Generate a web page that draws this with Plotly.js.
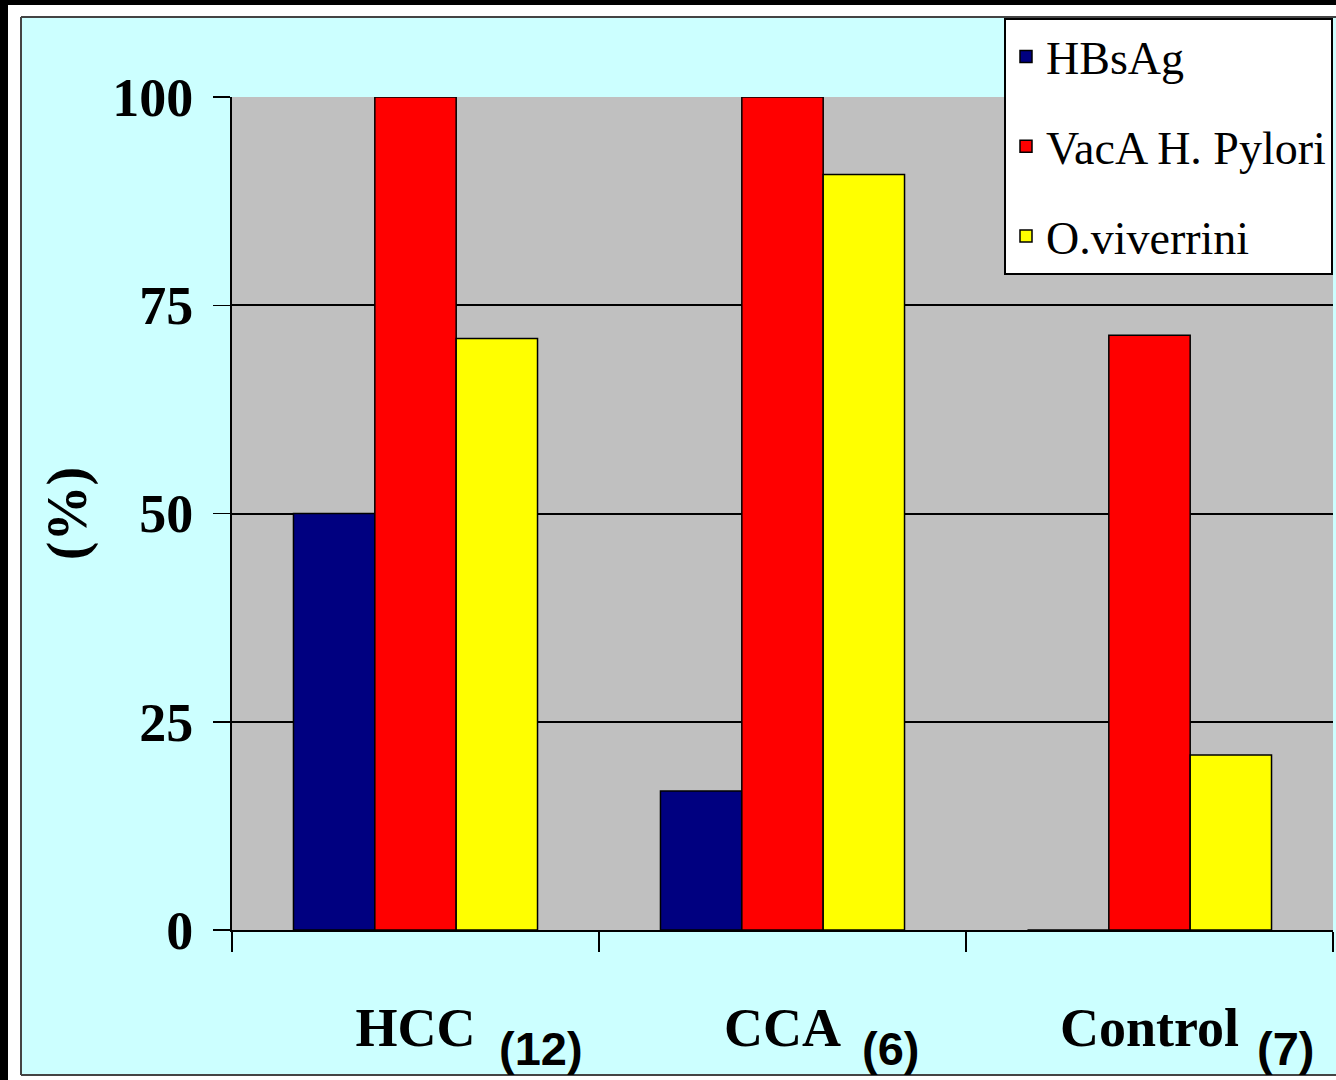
<!DOCTYPE html>
<html>
<head>
<meta charset="utf-8">
<script src="https://cdn.plot.ly/plotly-3.0.1.min.js"></script>
<style>
  html, body { margin: 0; padding: 0; background: #fff; }
  #chart { width: 1336px; height: 1080px; }
</style>
</head>
<body>
<div id="chart"></div>
<script>
// ---- data ----
const categories = ['HCC', 'CCA', 'Control'];
const groupSizes = ['(12)', '(6)', '(7)'];
const seriesNames = ['HBsAg', 'VacA H. Pylori', 'O.viverrini'];
const hbsag = [50, 16.7, 0];
const vacaHPylori = [100, 100, 71.4];
const oViverrini = [71, 90.7, 21];
const yTicks = [0, 25, 50, 75, 100];
const yTickLabels = ['0', '25', '50', '75', '100'];

// ---- layout helpers (pixel -> paper) ----
const W = 1336, H = 1080;
const M = { l: 232, r: 3, t: 97, b: 150 };
const PW = W - M.l - M.r, PH = H - M.t - M.b;
const px = v => (v - M.l) / PW;
const py = v => (H - M.b - v) / PH;

const colors = ['#000080', '#FF0000', '#FFFF00'];
const seriesValues = [hbsag, vacaHPylori, oViverrini];

const traces = seriesValues.map((vals, i) => ({
  type: 'bar',
  name: seriesNames[i],
  x: categories,
  y: vals,
  legendgroup: 'g' + i,
  marker: { color: colors[i], line: { color: '#000', width: 1.5 } },
  hoverinfo: 'x+y+name'
}));

function rect(x0, y0, x1, y1, fill) {
  return { type: 'rect', xref: 'paper', yref: 'paper', layer: 'above',
    x0: px(x0), x1: px(x1), y0: py(y0), y1: py(y1),
    fillcolor: fill, line: { width: 0 } };
}
function line(x0, y0, x1, y1) {
  return { type: 'line', xref: 'paper', yref: 'paper', layer: 'above',
    x0: px(x0), x1: px(x1), y0: py(y0), y1: py(y1),
    line: { color: '#444', width: 2 } };
}

const shapes = [
  rect(0, 0, 8, 1080, '#000'),
  rect(0, 0, 1336, 5, '#000'),
  rect(8, 5, 21, 1080, '#fff'),
  rect(8, 5, 1336, 17, '#fff'),
  rect(8, 1076, 1336, 1080, '#fff'),
  line(21, 17, 21, 1075),
  line(21, 17, 1336, 17),
  line(21, 1075, 1336, 1075)
];

const countShifts = [81, 77, 105];
const annotations = categories.map((c, i) => ({
  xref: 'x', yref: 'paper', x: c, y: py(1048),
  xanchor: 'left', yanchor: 'middle', xshift: countShifts[i],
  text: groupSizes[i], showarrow: false,
  font: { family: 'Liberation Sans, Arial, sans-serif', size: 47, color: '#000', weight: 'bold' }
}));

const layout = {
  width: W, height: H,
  margin: M,
  paper_bgcolor: '#CCFFFF',
  plot_bgcolor: '#C0C0C0',
  barmode: 'group',
  bargap: 0.335,
  bargroupgap: 0,
  showlegend: true,
  legend: {
    x: px(1004), y: py(18), xanchor: 'left', yanchor: 'top',
    bgcolor: '#fff', bordercolor: '#000', borderwidth: 2,
    font: { family: 'Liberation Serif, Times New Roman, serif', size: 46, color: '#000' },
    traceorder: 'grouped', tracegroupgap: 27
  },
  xaxis: {
    type: 'category',
    tickson: 'boundaries',
    ticks: 'outside', ticklen: 20, tickwidth: 1.5, tickcolor: '#000',
    showline: true, linecolor: '#000', linewidth: 2,
    showgrid: false, zeroline: false,
    ticklabelstandoff: 49,
    tickfont: { family: 'Liberation Serif, Times New Roman, serif', size: 54, color: '#000', weight: 'bold' },
    fixedrange: true
  },
  yaxis: {
    range: [0, 100],
    tickmode: 'array', tickvals: yTicks, ticktext: yTickLabels,
    ticks: 'outside', ticklen: 17, tickwidth: 1.5, tickcolor: '#000',
    ticklabelstandoff: 9,
    showline: true, linecolor: '#000', linewidth: 2,
    showgrid: true, gridcolor: '#000', gridwidth: 2,
    zeroline: false,
    tickfont: { family: 'Liberation Serif, Times New Roman, serif', size: 54, color: '#000', weight: 'bold' },
    title: { text: '(%)', standoff: 8,
      font: { family: 'Liberation Serif, Times New Roman, serif', size: 56, color: '#000', weight: 'bold' } },
    fixedrange: true
  },
  shapes: shapes,
  annotations: annotations
};

Plotly.newPlot('chart', traces, layout, { displayModeBar: false, staticPlot: true });
</script>
</body>
</html>
